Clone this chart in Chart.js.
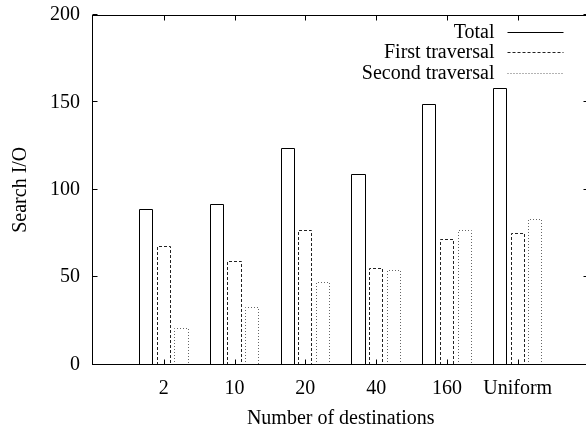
<!DOCTYPE html>
<html>
<head>
<meta charset="utf-8">
<script src="https://cdn.jsdelivr.net/npm/chart.js@4.4.1/dist/chart.umd.min.js"></script>
<style>
  html, body { margin: 0; padding: 0; background: #fff; overflow: hidden; }
  #wrap { width: 600px; height: 431px; }
</style>
</head>
<body>
<div id="wrap"><canvas id="chart" width="600" height="431"></canvas></div>
<script>
// Dati
const categories = ['2', '10', '20', '40', '160', 'Uniform'];
const totalIO = [89, 92, 124, 109, 149, 158];
const firstIO = [68, 59, 77, 55, 72, 75];
const secondIO = [21, 33, 47, 54, 77, 83];
const yTicks = [0, 50, 100, 150, 200];

const FONT = 'Liberation Serif, Times New Roman, serif';
Chart.defaults.font.family = FONT;
Chart.defaults.font.size = 20;
Chart.defaults.color = '#000';

function points(values) {
    return values.map((v, i) => ({ x: i + 1, y: v }));
}

// Cornice con tacche verso l'interno, come gnuplot
const framePlugin = {
    id: 'frame',
    afterDraw(chart) {
        const { ctx, chartArea: a, scales } = chart;
        ctx.save();
        ctx.strokeStyle = '#000';
        ctx.lineWidth = 1;
        ctx.setLineDash([]);
        const l = Math.round(a.left) - 0.5, r = Math.round(a.right) - 0.5;
        const t = Math.round(a.top) + 0.5, b = Math.round(a.bottom) - 0.5;
        ctx.strokeRect(l, t, r - l, b - t);
        ctx.beginPath();
        yTicks.forEach(v => {
            const y = Math.round(scales.y.getPixelForValue(v)) - 0.5;
            ctx.moveTo(l, y); ctx.lineTo(l + 5, y);
            ctx.moveTo(r, y); ctx.lineTo(r - 5, y);
        });
        categories.forEach((c, i) => {
            const x = Math.round(scales.x.getPixelForValue(i + 1)) + 0.5;
            ctx.moveTo(x, b); ctx.lineTo(x, b - 5);
            ctx.moveTo(x, t); ctx.lineTo(x, t + 5);
        });
        ctx.stroke();
        ctx.restore();
    }
};

// Contorni delle barre (pieno, tratteggiato, puntinato)
const outlinePlugin = {
    id: 'outline',
    afterDatasetsDraw(chart) {
        const ctx = chart.ctx;
        chart.data.datasets.forEach((ds, di) => {
            const meta = chart.getDatasetMeta(di);
            ctx.save();
            ctx.strokeStyle = ds.borderColor;
            ctx.lineWidth = 1;
            ctx.setLineDash(ds.outlineDash);
            meta.data.forEach(el => {
                const p = el.getProps(['x', 'y', 'base', 'width'], true);
                const left = Math.round(p.x - p.width / 2) + 0.5;
                const right = Math.round(p.x + p.width / 2) - 0.5;
                const top = Math.round(p.y) + 0.5;
                const base = Math.round(p.base);
                ctx.beginPath();
                ctx.moveTo(left, base);
                ctx.lineTo(left, top);
                ctx.lineTo(right, top);
                ctx.lineTo(right, base);
                ctx.stroke();
            });
            ctx.restore();
        });
    }
};

// Legenda in alto a destra, testo allineato a destra e campione a destra
const legendPlugin = {
    id: 'gpLegend',
    afterDraw(chart) {
        const { ctx, chartArea: a } = chart;
        ctx.save();
        ctx.font = '20px ' + FONT;
        ctx.textAlign = 'right';
        ctx.textBaseline = 'alphabetic';
        ctx.fillStyle = '#000';
        const sampleEnd = a.right - 25;
        const sampleStart = sampleEnd - 56;
        chart.data.datasets.forEach((ds, i) => {
            const y = a.top + 16.5 + i * 20.8;
            ctx.fillText(ds.label, sampleStart - 13, y + 6);
            ctx.strokeStyle = ds.borderColor;
            ctx.lineWidth = 1;
            ctx.setLineDash(ds.outlineDash);
            ctx.beginPath();
            ctx.moveTo(sampleStart, Math.round(y) + 0.5);
            ctx.lineTo(sampleEnd, Math.round(y) + 0.5);
            ctx.stroke();
        });
        ctx.restore();
    }
};

new Chart(document.getElementById('chart'), {
    type: 'bar',
    data: {
        datasets: [
            { label: 'Total', data: points(totalIO), borderColor: '#000', outlineDash: [] },
            { label: 'First traversal', data: points(firstIO), borderColor: '#222', outlineDash: [3, 2] },
            { label: 'Second traversal', data: points(secondIO), borderColor: '#666', outlineDash: [1, 2] }
        ]
    },
    options: {
        responsive: false,
        animation: false,
        layout: { padding: { top: 15, right: 11.5, left: 0, bottom: 0 } },
        datasets: {
            bar: {
                backgroundColor: 'rgba(0,0,0,0)',
                borderWidth: 0,
                categoryPercentage: 0.75,
                barPercentage: 0.8
            }
        },
        plugins: {
            legend: { display: false },
            tooltip: { enabled: false }
        },
        scales: {
            x: {
                type: 'linear',
                offset: false,
                min: 0,
                max: 7,
                grid: { display: false, drawTicks: false },
                border: { display: false },
                afterBuildTicks: s => { s.ticks = categories.map((c, i) => ({ value: i + 1 })); },
                afterFit: s => { s.height = 66.5; s.paddingLeft = 0; s.paddingRight = 0; },
                ticks: {
                    padding: 12,
                    maxRotation: 0,
                    autoSkip: false,
                    callback: v => categories[v - 1]
                },
                title: {
                    display: true,
                    text: 'Number of destinations',
                    padding: { top: 0, bottom: 0.5 }
                }
            },
            y: {
                min: 0,
                max: 200,
                grid: { display: false, drawTicks: false },
                border: { display: false },
                afterBuildTicks: s => { s.ticks = yTicks.map(v => ({ value: v })); },
                afterFit: s => { s.width = 93; s.paddingTop = 0; s.paddingBottom = 0; },
                ticks: { padding: 13 },
                title: {
                    display: true,
                    text: 'Search I/O',
                    padding: { top: 8.5, bottom: 0 }
                }
            }
        }
    },
    plugins: [outlinePlugin, framePlugin, legendPlugin]
});
</script>
</body>
</html>
